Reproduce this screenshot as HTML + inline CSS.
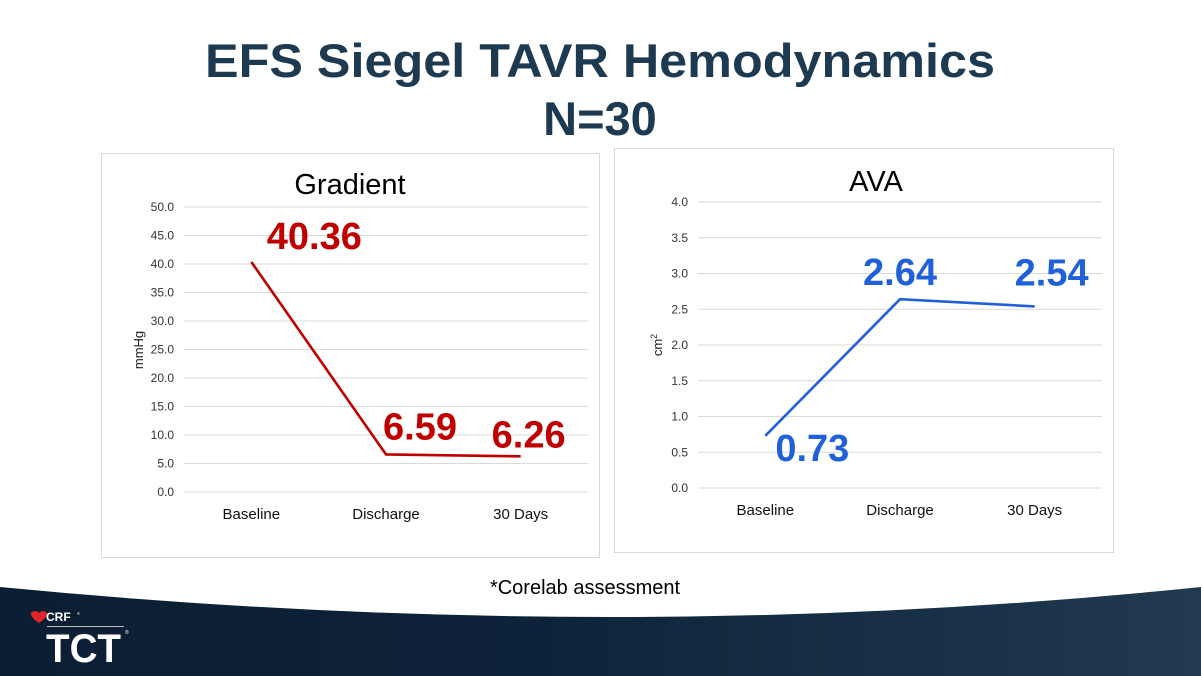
<!DOCTYPE html>
<html><head><meta charset="utf-8"><style>
html,body{margin:0;padding:0;background:#fff}
svg{display:block;font-family:"Liberation Sans",Arial,sans-serif}
</style></head><body>
<svg width="1201" height="676" viewBox="0 0 1201 676">
<defs>
<linearGradient id="fg" x1="0" x2="1" y1="0" y2="0">
<stop offset="0" stop-color="#0c1e33"/><stop offset="0.45" stop-color="#0d2339"/><stop offset="1" stop-color="#213a4f"/>
</linearGradient>
</defs>
<text x="600" y="77" text-anchor="middle" font-size="47" font-weight="bold" fill="#1e3a50" textLength="790" lengthAdjust="spacingAndGlyphs">EFS Siegel TAVR Hemodynamics</text>
<text x="600" y="135" text-anchor="middle" font-size="47" font-weight="bold" fill="#1e3a50">N=30</text>

<g>
<rect x="101.5" y="153.5" width="498" height="404" fill="#fff" stroke="#d9d9d9"/>
<text x="350" y="194" text-anchor="middle" font-size="29" fill="#000">Gradient</text>
<g id="g1grid"></g>
<text transform="translate(143,350) rotate(-90)" text-anchor="middle" font-size="13" fill="#222">mmHg</text>
<g id="g1marks"></g>
</g>

<g>
<rect x="614.5" y="148.5" width="499" height="404" fill="#fff" stroke="#d9d9d9"/>
<text x="876" y="191" text-anchor="middle" font-size="29" fill="#000">AVA</text>
<g id="g2grid"></g>
<text transform="translate(662,345) rotate(-90)" text-anchor="middle" font-size="13" fill="#222">cm<tspan font-size="9" dy="-5">2</tspan></text>
<g id="g2marks"></g>
</g>

<text x="585" y="594" text-anchor="middle" font-size="20" fill="#000">*Corelab assessment</text>

<path d="M0,587 Q620,647 1201,587 L1201,676 L0,676 Z" fill="url(#fg)"/>
<g>
<path d="M31,613 q4,-4 8,0 q4,-4 8,0 q1,4 -8,10 q-9,-6 -8,-10z" fill="#e0262b"/>
<text x="46" y="621" font-size="12" font-weight="bold" fill="#fff">CRF</text>
<text x="77" y="615" font-size="4" fill="#fff">®</text>
<rect x="47" y="626" width="77" height="1" fill="#bbb"/>
<text x="46" y="662" font-size="40" font-weight="bold" fill="#fff" textLength="75" lengthAdjust="spacingAndGlyphs">TCT</text>
<text x="125" y="634" font-size="5" fill="#fff">®</text>
</g>
</svg>
<script>
const categories = ["Baseline","Discharge","30 Days"];
const gradientValues = [40.36, 6.59, 6.26];
const gradientLabels = ["40.36","6.59","6.26"];
const gradientTicks = [0,5,10,15,20,25,30,35,40,45,50];
const avaValues = [0.73, 2.64, 2.54];
const avaLabels = ["0.73","2.64","2.54"];
const avaTicks = [0,0.5,1,1.5,2,2.5,3,3.5,4];
const NS = "http://www.w3.org/2000/svg";
function mk(tag, attrs, parent){const e=document.createElementNS(NS,tag);for(const k in attrs)e.setAttribute(k,attrs[k]);parent.appendChild(e);return e;}
function draw(cfg){
  const grid=document.getElementById(cfg.grid), marks=document.getElementById(cfg.marks);
  const yMax=cfg.ticks[cfg.ticks.length-1];
  const y=v=>cfg.y0-(v/yMax)*(cfg.y0-cfg.y1);
  const band=(cfg.x1-cfg.x0)/categories.length;
  const x=i=>cfg.x0+band*(i+0.5);
  cfg.ticks.forEach(t=>{
    const l=mk('line',{x1:cfg.x0,x2:cfg.x1,y1:y(t),y2:y(t),stroke:'#d9d9d9','stroke-width':1},grid);
    
    
    const tx=mk('text',{x:cfg.x0-10,y:y(t)+4,'text-anchor':'end','font-size':12,fill:'#333'},grid);
    
    
    tx.textContent=t.toFixed(1);
  });
  categories.forEach((c,i)=>{
    const tx=mk('text',{x:x(i),y:cfg.y0+27,'text-anchor':'middle','font-size':15,fill:'#111'},grid);
    
    
    tx.textContent=c;
  });
  const pts=cfg.values.map((v,i)=>x(i)+','+y(v)).join(' ');
  const pl=mk('polyline',{points:pts,fill:'none',stroke:cfg.color,'stroke-width':2.6},marks);
  
  
  cfg.values.forEach((v,i)=>{
    const tx=mk('text',{x:x(i)+cfg.dx[i],y:y(v)+cfg.dy[i],'text-anchor':'middle','font-size':38,'font-weight':'bold',fill:cfg.color},marks);
    
    
    tx.textContent=cfg.labels[i];
  });
}
draw({grid:'g1grid',marks:'g1marks',x0:184,x1:588,y0:492,y1:207,ticks:gradientTicks,values:gradientValues,labels:gradientLabels,color:'#c00000',dx:[63,34,8],dy:[-13,-15,-9]});
draw({grid:'g2grid',marks:'g2marks',x0:698,x1:1102,y0:488,y1:202,ticks:avaTicks,values:avaValues,labels:avaLabels,color:'#2060d8',dx:[47,0,17],dy:[25,-14,-21]});
</script>
</body></html>
